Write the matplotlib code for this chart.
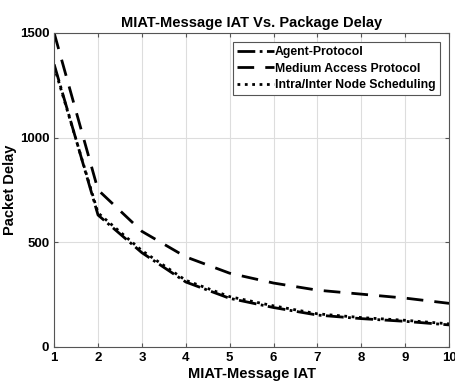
import matplotlib
matplotlib.use('Agg')
import matplotlib.pyplot as plt

plt.rcParams['font.family'] = ['Liberation Sans', 'DejaVu Sans']
plt.rcParams['font.weight'] = 'bold'

# Data
iat = [1, 2, 3, 4, 5, 6, 7, 8, 9, 10]
agent = [1350, 630, 450, 310, 232, 188, 152, 135, 122, 105]
medium = [1500, 750, 552, 430, 352, 305, 271, 252, 233, 208]
intra = [1340, 640, 460, 318, 240, 196, 158, 140, 127, 110]

fig = plt.figure(figsize=(4.55, 3.88), dpi=100)
ax = fig.add_axes([0.119, 0.106, 0.868, 0.809])

ax.plot(iat, agent, color='black', linestyle='-.', linewidth=2, label='Agent-Protocol')
ax.plot(iat, medium, color='black', linestyle=(0, (6, 4)), linewidth=2, label='Medium Access Protocol')
ax.plot(iat, intra, color='black', linestyle=':', linewidth=2, label='Intra/Inter Node Scheduling')

ax.set_xlim(1, 10)
ax.set_ylim(0, 1500)
ax.set_xticks(iat)
ax.set_yticks([0, 500, 1000, 1500])

ax.set_title('MIAT-Message IAT Vs. Package Delay', fontsize=10.5, fontweight='bold', pad=4)
ax.set_xlabel('MIAT-Message IAT', fontsize=10.5, fontweight='bold', labelpad=2)
ax.set_ylabel('Packet Delay', fontsize=10.5, fontweight='bold', labelpad=2)

ax.grid(True, color='#dddddd', linewidth=0.8)
ax.tick_params(direction='in', top=True, right=True, labelsize=9.5, length=3, color='#555555')
for s in ax.spines.values():
    s.set_color('#555555')
    s.set_linewidth(0.8)

leg = ax.legend(loc='upper right', fontsize=8.8, handlelength=3, handletextpad=0.1,
                borderpad=0.35, labelspacing=0.35, fancybox=False, framealpha=1,
                borderaxespad=0.75)
leg.get_frame().set_edgecolor('#555555')
leg.get_frame().set_linewidth(0.8)

fig.savefig('out.png', dpi=100)
